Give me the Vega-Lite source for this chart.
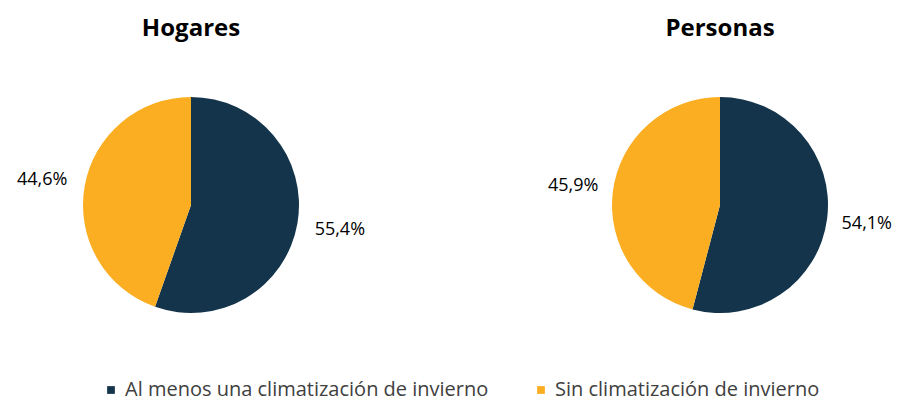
{
  "$schema": "https://vega.github.io/schema/vega-lite/v6.json",
  "padding": {"left": 0, "right": 0, "top": 17, "bottom": 10},
  "background": "white",
  "data": {
    "values": [
      {"grupo": "Hogares", "categoria": "Al menos una climatización de invierno", "valor": 55.4, "etiqueta": "55,4%"},
      {"grupo": "Hogares", "categoria": "Sin climatización de invierno", "valor": 44.6, "etiqueta": "44,6%"},
      {"grupo": "Personas", "categoria": "Al menos una climatización de invierno", "valor": 54.1, "etiqueta": "54,1%"},
      {"grupo": "Personas", "categoria": "Sin climatización de invierno", "valor": 45.9, "etiqueta": "45,9%"}
    ]
  },
  "config": {
    "view": {"stroke": null},
    "font": "Open Sans",
    "concat": {"spacing": 154},
    "title": {"fontSize": 24, "fontWeight": "bold", "color": "#000000", "font": "Open Sans", "offset": 9},
    "legend": {
      "orient": "none",
      "legendX": 101,
      "legendY": 330,
      "direction": "horizontal",
      "title": null,
      "symbolType": "square",
      "symbolSize": 60,
      "labelFontSize": 20,
      "labelLimit": 0,
      "labelColor": "#404040",
      "columnPadding": 42
    }
  },
  "hconcat": [
    {
      "width": 382,
      "height": 310,
      "title": "Hogares",
      "transform": [{"filter": "datum.grupo === 'Hogares'"}],
      "encoding": {
        "theta": {"field": "valor", "type": "quantitative", "stack": true},
        "order": {"field": "categoria", "type": "nominal", "sort": "ascending"}
      },
      "layer": [
        {
          "mark": {"type": "arc", "outerRadius": 108},
          "encoding": {
            "color": {
              "field": "categoria",
              "type": "nominal",
              "scale": {"domain": ["Al menos una climatización de invierno", "Sin climatización de invierno"], "range": ["#13344B", "#FBAE22"]}
            }
          }
        },
        {
          "mark": {"type": "text", "radius": 151, "fontSize": 18, "color": "#000000"},
          "encoding": {
            "detail": {"field": "categoria", "type": "nominal"},
            "text": {"field": "etiqueta", "type": "nominal"}
          }
        }
      ]
    },
    {
      "width": 368,
      "height": 310,
      "title": "Personas",
      "transform": [{"filter": "datum.grupo === 'Personas'"}],
      "encoding": {
        "theta": {"field": "valor", "type": "quantitative", "stack": true},
        "order": {"field": "categoria", "type": "nominal", "sort": "ascending"}
      },
      "layer": [
        {
          "mark": {"type": "arc", "outerRadius": 108},
          "encoding": {
            "color": {
              "field": "categoria",
              "type": "nominal",
              "scale": {"domain": ["Al menos una climatización de invierno", "Sin climatización de invierno"], "range": ["#13344B", "#FBAE22"]}
            }
          }
        },
        {
          "mark": {"type": "text", "radius": 148, "fontSize": 18, "color": "#000000"},
          "encoding": {
            "detail": {"field": "categoria", "type": "nominal"},
            "text": {"field": "etiqueta", "type": "nominal"}
          }
        }
      ]
    }
  ]
}
